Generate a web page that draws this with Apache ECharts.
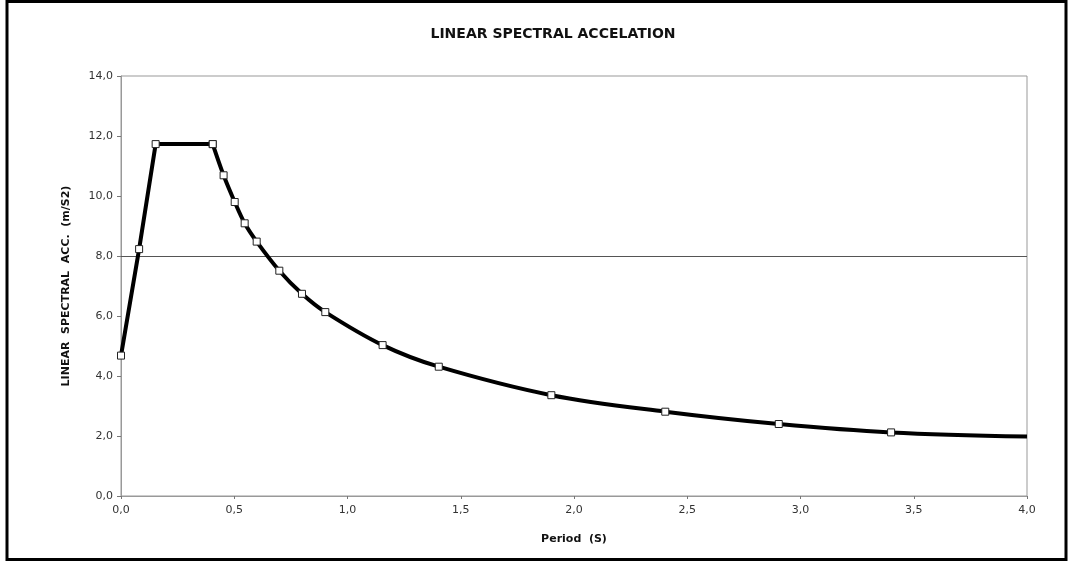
<!DOCTYPE html>
<html>
<head>
<meta charset="utf-8">
<script src="https://cdn.jsdelivr.net/npm/echarts@6/dist/echarts.min.js"></script>
<style>
html,body{margin:0;padding:0;background:#fff;}
#chart{width:1068px;height:563px;}
</style>
</head>
<body>
<div id="chart"></div>
<script>
// Rising branch + plateau (straight segments)
const periodRise = [0.0, 0.08, 0.153, 0.405];
const accRise = [4.68, 8.23, 11.73, 11.73];
// Descending branch (smoothed)
const periodFall = [0.405, 0.453, 0.502, 0.546, 0.599, 0.699, 0.799, 0.902, 1.155, 1.403, 1.90, 2.403, 2.904, 3.40, 4.0];
const accFall = [11.73, 10.69, 9.80, 9.09, 8.48, 7.51, 6.74, 6.13, 5.03, 4.31, 3.36, 2.81, 2.40, 2.12, 1.98];
const markedFall = [true, true, true, true, true, true, true, true, true, true, true, true, true, true, false];
const refLine = 8.0;
const yTicks = [0, 2, 4, 6, 8, 10, 12, 14];
const xTicks = [0, 0.5, 1, 1.5, 2, 2.5, 3, 3.5, 4];

const titleText = 'LINEAR SPECTRAL ACCELATION';
const xName = 'Period  (S)';
const yName = 'LINEAR  SPECTRAL  ACC.  (m/S2)';

const FONT = 'DejaVu Sans, Verdana, sans-serif';
const fmt = v => v.toFixed(1).replace('.', ',');
const markerStyle = {color: '#fff', borderColor: '#222', borderWidth: 1};

const chart = echarts.init(document.getElementById('chart'));
chart.setOption({
  animation: false,
  backgroundColor: '#fff',
  title: {
    text: titleText, left: 548, top: 22, textAlign: 'center',
    textStyle: {fontFamily: FONT, fontSize: 14, fontWeight: 'bold', color: '#111'}
  },
  graphic: [{
    type: 'rect', shape: {x: 7, y: 1.5, width: 1059, height: 558},
    style: {fill: 'none', stroke: '#000', lineWidth: 3}, silent: true, z: 100
  }],
  grid: {left: 121, top: 76, width: 906, height: 420, show: true, borderColor: '#999', borderWidth: 1, containLabel: false},
  xAxis: {
    type: 'value', min: xTicks[0], max: xTicks[xTicks.length - 1], interval: 0.5,
    name: xName, nameLocation: 'middle', nameGap: 38,
    nameTextStyle: {fontFamily: FONT, fontSize: 11, fontWeight: 'bold', color: '#111'},
    axisLine: {lineStyle: {color: '#999'}},
    axisTick: {show: true, length: 3, lineStyle: {color: '#777'}},
    splitLine: {show: false},
    axisLabel: {formatter: fmt, margin: 9, fontFamily: FONT, fontSize: 11, color: '#333'}
  },
  yAxis: {
    type: 'value', min: yTicks[0], max: yTicks[yTicks.length - 1], interval: 2,
    name: yName, nameLocation: 'middle', nameGap: 49, nameRotate: 90,
    nameTextStyle: {fontFamily: FONT, fontSize: 11, fontWeight: 'bold', color: '#111'},
    axisLine: {show: true, lineStyle: {color: '#999'}},
    axisTick: {show: true, length: 4, lineStyle: {color: '#777'}},
    splitLine: {show: false},
    axisLabel: {formatter: fmt, margin: 8, fontFamily: FONT, fontSize: 11, color: '#333'}
  },
  series: [
    {
      type: 'line', data: periodRise.map((x, i) => [x, accRise[i]]),
      symbol: 'rect', symbolSize: 7, showAllSymbol: true,
      lineStyle: {color: '#000', width: 4}, itemStyle: markerStyle, z: 3,
      markLine: {
        silent: true, symbol: 'none', label: {show: false},
        lineStyle: {color: '#555', width: 1, type: 'solid'},
        data: [{yAxis: refLine}], z: 1
      }
    },
    {
      type: 'line', smooth: 0.35,
      data: periodFall.map((x, i) => ({value: [x, accFall[i]], symbol: markedFall[i] ? 'rect' : 'none'})),
      symbol: 'rect', symbolSize: 7, showAllSymbol: true,
      lineStyle: {color: '#000', width: 4}, itemStyle: markerStyle, z: 3
    }
  ]
});
</script>
</body>
</html>
